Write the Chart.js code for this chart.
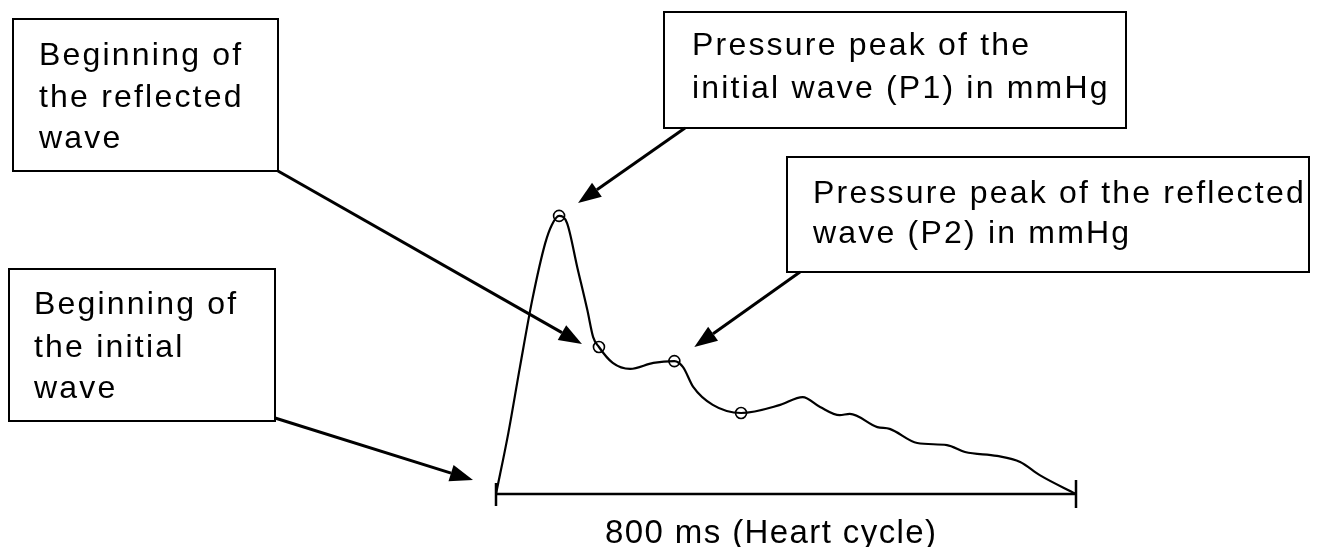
<!DOCTYPE html>
<html>
<head>
<meta charset="utf-8">
<title>Pulse wave</title>
<script src="https://cdn.jsdelivr.net/npm/chart.js@4/dist/chart.umd.min.js"></script>
<style>
  html, body { margin: 0; padding: 0; background: #fff; }
  #wrap { width: 1320px; height: 547px; position: relative; }
</style>
</head>
<body>
<div id="wrap"><canvas id="waveChart"></canvas></div>
<script>
// Heart cycle time (ms) and pressure values
const timeMs = [0, 17, 33, 50, 68, 77, 87, 98, 112, 126, 134, 142, 161, 185, 217, 246, 258, 272, 299, 338,
  392, 423, 447, 474, 488, 526, 543, 581, 622, 647, 691, 723, 750, 800];
const pressure = [0, 20.3, 42.3, 64.7, 83.7, 89.7, 92.7, 90.3, 75.7, 61.3, 52.3, 49, 43.7, 41.7, 43.7, 44.3, 42.3, 35.7, 29.7, 27,
  29.7, 32.3, 29, 26.3, 26.7, 22.3, 21.7, 17, 16.3, 14, 12.7, 10.7, 6.3, 0];

// Indices of the circled points on the curve
const markedPoints = [6, 11, 15, 19];

const axisLabel = '800 ms (Heart cycle)';

// Annotation text, one entry per line
const labelReflectedStart = ['Beginning of', 'the reflected', 'wave'];
const labelP1 = ['Pressure peak of the', 'initial wave (P1) in mmHg'];
const labelP2 = ['Pressure peak of the reflected', 'wave (P2) in mmHg'];
const labelInitialStart = ['Beginning of', 'the initial', 'wave'];

const waveData = timeMs.map((t, i) => ({ x: t, y: pressure[i] }));
const markData = markedPoints.map(i => ({ x: timeMs[i], y: pressure[i] }));

/**
 * Annotation layout: box rectangle, text start, baselines,
 * arrow tail and which data point the arrow aims at (with pixel offset)
 */
const notes = [
  { lines: labelReflectedStart, box: [13, 19, 265, 152], tx: 39, base: [65, 107, 148],
    tail: [278, 171], point: 11, off: [-17, -3] },
  { lines: labelP1, box: [664, 12, 462, 116], tx: 692, base: [55, 98],
    tail: [685, 128], point: 6, off: [19, -13] },
  { lines: labelP2, box: [787, 157, 522, 115], tx: 813, base: [203, 243],
    tail: [800, 272], point: 15, off: [20, -14] },
  { lines: labelInitialStart, box: [9, 269, 266, 152], tx: 34, base: [314, 357, 398],
    tail: [275, 418], point: 0, off: [-23, -14] }
];

function drawArrow(ctx, x0, y0, x1, y1) {
  const ang = Math.atan2(y1 - y0, x1 - x0);
  const headLen = 23, headHalf = 8.5;
  const bx = x1 - headLen * Math.cos(ang);
  const by = y1 - headLen * Math.sin(ang);
  ctx.beginPath();
  ctx.moveTo(x0, y0);
  ctx.lineTo(bx, by);
  ctx.lineWidth = 3;
  ctx.stroke();
  ctx.beginPath();
  ctx.moveTo(x1, y1);
  ctx.lineTo(bx + headHalf * Math.sin(ang), by - headHalf * Math.cos(ang));
  ctx.lineTo(bx - headHalf * Math.sin(ang), by + headHalf * Math.cos(ang));
  ctx.closePath();
  ctx.fill();
}

// Plugin: baseline with end ticks, axis caption, text boxes and arrows
const annotationPlugin = {
  id: 'waveAnnotations',
  afterDraw(chart) {
    const ctx = chart.ctx;
    const xs = chart.scales.x, ys = chart.scales.y;
    const y0 = ys.getPixelForValue(0);
    const xa = xs.getPixelForValue(timeMs[0]);
    const xb = xs.getPixelForValue(timeMs[timeMs.length - 1]);

    ctx.save();
    ctx.strokeStyle = '#000';
    ctx.fillStyle = '#000';

    // baseline
    ctx.lineWidth = 2.5;
    ctx.beginPath();
    ctx.moveTo(xa, y0); ctx.lineTo(xb, y0);
    ctx.moveTo(xa, y0 - 11); ctx.lineTo(xa, y0 + 12);
    ctx.moveTo(xb, y0 - 14); ctx.lineTo(xb, y0 + 14);
    ctx.stroke();

    // caption
    ctx.font = '33px "Liberation Sans", Arial, sans-serif';
    ctx.letterSpacing = '1.4px';
    ctx.textBaseline = 'alphabetic';
    ctx.textAlign = 'left';
    ctx.fillText(axisLabel, 605, 543);

    // boxes and arrows
    ctx.font = '32px "Liberation Sans", Arial, sans-serif';
    ctx.letterSpacing = '2.2px';
    notes.forEach(n => {
      const [bx, by, bw, bh] = n.box;
      ctx.lineWidth = 2;
      ctx.fillStyle = '#fff';
      ctx.fillRect(bx, by, bw, bh);
      ctx.strokeRect(bx, by, bw, bh);
      ctx.fillStyle = '#000';
      n.lines.forEach((line, i) => ctx.fillText(line, n.tx, n.base[i]));

      const px = xs.getPixelForValue(timeMs[n.point]) + n.off[0];
      const py = ys.getPixelForValue(pressure[n.point]) + n.off[1];
      drawArrow(ctx, n.tail[0], n.tail[1], px, py);
    });
    ctx.restore();
  }
};

function initWaveChart() {
  const ctx = document.getElementById('waveChart').getContext('2d');
  new Chart(ctx, {
    type: 'line',
    data: {
      datasets: [
        {
          data: waveData,
          borderColor: '#000',
          borderWidth: 2.2,
          pointRadius: 0,
          cubicInterpolationMode: 'monotone',
          fill: false
        },
        {
          data: markData,
          showLine: false,
          pointRadius: 5.5,
          pointBorderWidth: 1.6,
          pointBorderColor: '#000',
          pointBackgroundColor: 'rgba(0,0,0,0)'
        }
      ]
    },
    options: {
      responsive: true,
      maintainAspectRatio: false,
      animation: false,
      layout: { padding: { left: 496, right: 244, top: 44, bottom: 53 } },
      plugins: { legend: { display: false }, tooltip: { enabled: false } },
      scales: {
        x: { type: 'linear', min: 0, max: 800, display: false },
        y: { min: 0, max: 150, display: false }
      }
    },
    plugins: [annotationPlugin]
  });
}

document.addEventListener('DOMContentLoaded', initWaveChart);
</script>
</body>
</html>
